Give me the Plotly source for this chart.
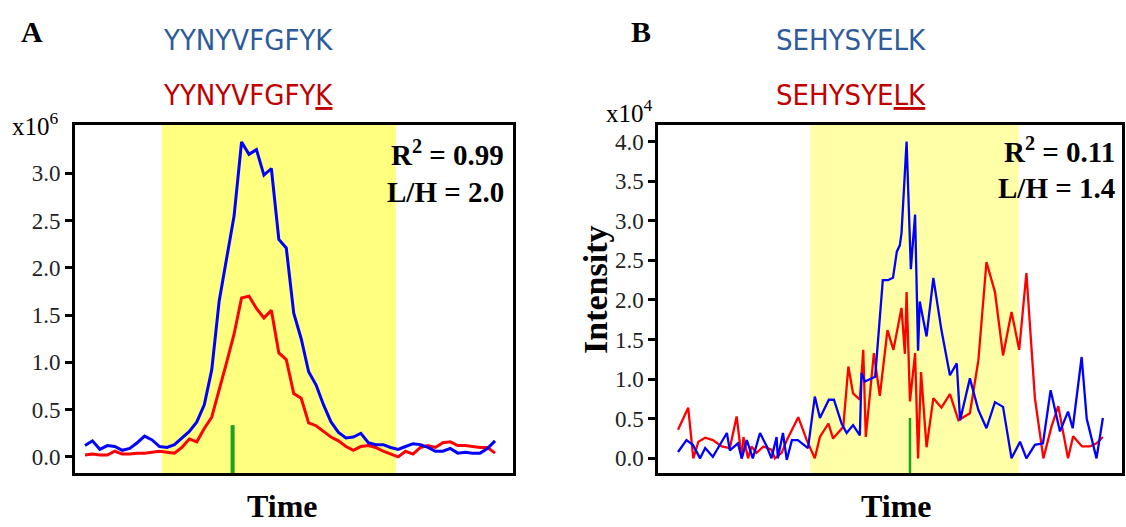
import plotly.graph_objects as go

W, H = 1126, 527

# ---------------- Panel A data (intensity x10^6, uniform scan index) ----------------
a_scan = list(range(56))
a_blue = [0.12, 0.17, 0.08, 0.12, 0.11, 0.07, 0.09, 0.15, 0.22, 0.18,
          0.11, 0.10, 0.13, 0.20, 0.27, 0.37, 0.55, 0.92, 1.65, 2.10,
          2.55, 3.33, 3.20, 3.25, 2.98, 3.05, 2.30, 2.21, 1.52, 1.25,
          0.90, 0.76, 0.55, 0.37, 0.26, 0.20, 0.21, 0.25, 0.15, 0.13,
          0.13, 0.10, 0.08, 0.11, 0.14, 0.13, 0.10, 0.06, 0.06, 0.09,
          0.04, 0.05, 0.04, 0.04, 0.09, 0.17]
a_red = [0.02, 0.03, 0.02, 0.02, 0.06, 0.03, 0.03, 0.04, 0.04, 0.05,
         0.06, 0.05, 0.04, 0.10, 0.19, 0.16, 0.30, 0.42, 0.70, 1.00,
         1.30, 1.68, 1.70, 1.57, 1.47, 1.55, 1.10, 1.03, 0.67, 0.62,
         0.36, 0.33, 0.27, 0.21, 0.17, 0.11, 0.07, 0.11, 0.12, 0.10,
         0.06, 0.03, 0.00, 0.06, 0.03, 0.10, 0.12, 0.10, 0.15, 0.16,
         0.12, 0.12, 0.11, 0.10, 0.10, 0.04]
a_window = [10.3, 41.7]
a_marker = 19.8
a_marker_top = 0.336
a_yrange = [-0.17, 3.51]
a_xrange = [-1.34, 57.41]
a_ticks = [0.0, 0.5, 1.0, 1.5, 2.0, 2.5, 3.0]

# ---------------- Panel B data (intensity x10^4) ----------------
b_blue_t = [0, 2.0, 3.5, 5.2, 6.4, 8.2, 11.5, 12.2, 14.1, 15.0,
            16.2, 17.6, 19.3, 20.9, 22.0, 23.2, 23.5, 24.7, 25.6, 26.8,
            28.2, 30.6, 32.2, 33.4, 35.5, 36.7, 38.5, 39.7, 41.2, 42.8,
            43.2, 44.0, 46.4, 48.2, 49.4, 50.6, 51.5, 52.2, 52.6, 53.8,
            54.8, 55.8, 56.5, 56.9, 58.5, 60.1, 62.0, 64.0, 65.6, 66.4,
            68.7, 70.7, 72.6, 74.6, 76.5, 78.5, 80.5, 82.0, 84.0, 85.9,
            87.7, 89.9, 91.8, 92.9, 95.0, 96.2, 98.5, 100]
b_blue = [0.08, 0.23, 0.17, 0.00, 0.13, 0.02, 0.32, 0.10, 0.19, 0.00,
          0.23, 0.00, 0.32, 0.15, 0.00, 0.27, 0.00, 0.32, -0.02, 0.23,
          0.23, 0.13, 0.78, 0.51, 0.74, 0.74, 0.44, 0.32, 0.42, 0.29,
          1.08, 0.97, 1.03, 2.25, 2.25, 2.28, 2.61, 2.69, 2.84, 4.00,
          2.39, 3.08, 1.36, 1.98, 1.54, 2.28, 1.62, 1.05, 1.20, 0.48,
          1.01, 0.61, 0.38, 0.71, 0.65, 0.00, 0.21, 0.00, 0.17, 0.19,
          0.86, 0.34, 0.59, 0.38, 1.28, 0.50, 0.00, 0.51]
b_red_t = [0, 2.4, 3.6, 4.8, 6.4, 8.2, 10.3, 12.2, 13.8, 15.0,
           15.4, 16.5, 17.3, 18.5, 20.1, 22.0, 22.8, 24.4, 25.6, 28.3,
           30.3, 32.2, 33.4, 35.4, 36.5, 38.9, 40.1, 41.2, 42.8, 43.6,
           44.2, 46.1, 47.5, 49.3, 50.7, 52.6, 53.4, 53.8, 54.6, 55.8,
           56.5, 57.2, 58.5, 60.1, 62.0, 64.0, 66.0, 68.7, 70.7, 72.6,
           74.6, 76.5, 78.5, 80.3, 82.0, 84.0, 86.0, 87.9, 89.5, 91.8,
           93.0, 95.1, 96.9, 98.5, 100]
b_red = [0.36, 0.64, 0.00, 0.21, 0.26, 0.23, 0.15, 0.13, 0.53, 0.00,
         0.27, 0.00, 0.15, 0.07, 0.15, 0.11, 0.00, 0.07, 0.23, 0.52,
         0.23, 0.00, 0.27, 0.44, 0.25, 0.40, 1.16, 0.82, 0.74, 1.37,
         0.27, 1.33, 0.79, 1.62, 1.37, 1.90, 1.32, 2.10, 0.72, 1.33,
         0.00, 1.09, 0.14, 0.76, 0.64, 0.81, 0.48, 0.57, 1.24, 2.48,
         2.10, 1.30, 1.85, 1.37, 2.34, 0.76, 0.00, 0.40, 0.66, 0.00,
         0.28, 0.15, 0.15, 0.19, 0.27]
b_window = [31.1, 80.2]
b_marker = 54.6
b_marker_top = 0.51
b_yrange = [-0.185, 4.21]
b_xrange = [-4.71, 104.5]
b_ticks = [0.0, 0.5, 1.0, 1.5, 2.0, 2.5, 3.0, 3.5, 4.0]

BLUE, RED, GREEN = "#0000ff", "#ff0000", "#1fa01f"
TITLE_BLUE, TITLE_RED = "#2e5b9a", "#c00000"
SERIF = "Liberation Serif, Times New Roman, serif"
SANS = "Liberation Sans Narrow, Arial Narrow, DejaVu Sans Condensed, Liberation Sans, Arial, sans-serif"

fig = go.Figure()
fig.add_trace(go.Scatter(x=a_scan, y=a_red, mode="lines", line=dict(color=RED, width=3),
                         xaxis="x", yaxis="y", showlegend=False))
fig.add_trace(go.Scatter(x=a_scan, y=a_blue, mode="lines", line=dict(color=BLUE, width=3),
                         xaxis="x", yaxis="y", showlegend=False))
fig.add_trace(go.Scatter(x=b_red_t, y=b_red, mode="lines", line=dict(color=RED, width=2.3),
                         xaxis="x2", yaxis="y2", showlegend=False))
fig.add_trace(go.Scatter(x=b_blue_t, y=b_blue, mode="lines", line=dict(color=BLUE, width=2.3),
                         xaxis="x2", yaxis="y2", showlegend=False))

ydom = [1 - 473 / H, 1 - 125 / H]
common_x = dict(showline=True, linecolor="black", mirror=True, showticklabels=False,
                ticks="", showgrid=False, zeroline=False)
common_y = dict(showline=True, linecolor="black", mirror=True, ticks="outside",
                ticklen=7, tickcolor="black", showgrid=False, zeroline=False,
                tickfont=dict(family=SERIF, size=23, color="#222222"))

fig.update_layout(
    width=W, height=H, margin=dict(l=0, r=0, t=0, b=0),
    paper_bgcolor="white", plot_bgcolor="white",
    xaxis=dict(domain=[75 / W, 513 / W], range=a_xrange, anchor="y", linewidth=3, **common_x),
    yaxis=dict(domain=ydom, range=a_yrange, anchor="x", linewidth=3, tickwidth=3,
               tickvals=a_ticks, ticktext=[f"{v:.1f}" for v in a_ticks], **common_y),
    xaxis2=dict(domain=[658 / W, 1122 / W], range=b_xrange, anchor="y2", linewidth=2.5, **common_x),
    yaxis2=dict(domain=ydom, range=b_yrange, anchor="x2", linewidth=2.5, tickwidth=2.5,
                tickvals=b_ticks, ticktext=[f"{v:.1f}" for v in b_ticks], **common_y),
)

# elution windows and apex markers
fig.add_shape(type="rect", xref="x", yref="y domain", x0=a_window[0], x1=a_window[1], y0=0, y1=1,
              fillcolor="#ffff80", line=dict(width=0), layer="below")
fig.add_shape(type="rect", xref="x2", yref="y2 domain", x0=b_window[0], x1=b_window[1], y0=0, y1=1,
              fillcolor="#ffffa8", line=dict(width=0), layer="below")
fig.add_shape(type="line", xref="x", yref="y", x0=a_marker, x1=a_marker, y0=a_yrange[0], y1=a_marker_top,
              line=dict(color=GREEN, width=4), layer="below")
fig.add_shape(type="line", xref="x2", yref="y2", x0=b_marker, x1=b_marker, y0=b_yrange[0], y1=b_marker_top,
              line=dict(color=GREEN, width=2.5), layer="below")


def ann(text, px, py, size, family=SERIF, color="black", xanchor="center", angle=0):
    fig.add_annotation(text=text, x=px / W, y=1 - py / H, xref="paper", yref="paper",
                       showarrow=False, xanchor=xanchor, yanchor="middle", textangle=angle,
                       font=dict(family=family, size=size, color=color))


ann("<b>A</b>", 32, 32, 30)
ann("<b>B</b>", 641, 32, 30)
ann("YYNYVFGFYK", 248, 40, 29, SANS, TITLE_BLUE)
ann("YYNYVFGFY<u>K</u>", 248, 95, 29, SANS, TITLE_RED)
ann("SEHYSYELK", 851, 40, 29, SANS, TITLE_BLUE)
ann("SEHYSYE<u>LK</u>", 851, 95, 29, SANS, TITLE_RED)
ann("x10<sup>6</sup>", 35, 124, 25)
ann("x10<sup>4</sup>", 629, 111, 25)
ann("<b>R<sup>2</sup> = 0.99</b>", 506, 153, 29, xanchor="right")
ann("<b>L/H = 2.0</b>", 506, 192, 29, xanchor="right")
ann("<b>R<sup>2</sup> = 0.11</b>", 1117, 150, 29, xanchor="right")
ann("<b>L/H = 1.4</b>", 1117, 188, 29, xanchor="right")
ann("<b>Intensity</b>", 595, 290, 34, angle=-90)
ann("<b>Time</b>", 282, 506, 32)
ann("<b>Time</b>", 896, 506, 32)

fig.write_html("out.html")
